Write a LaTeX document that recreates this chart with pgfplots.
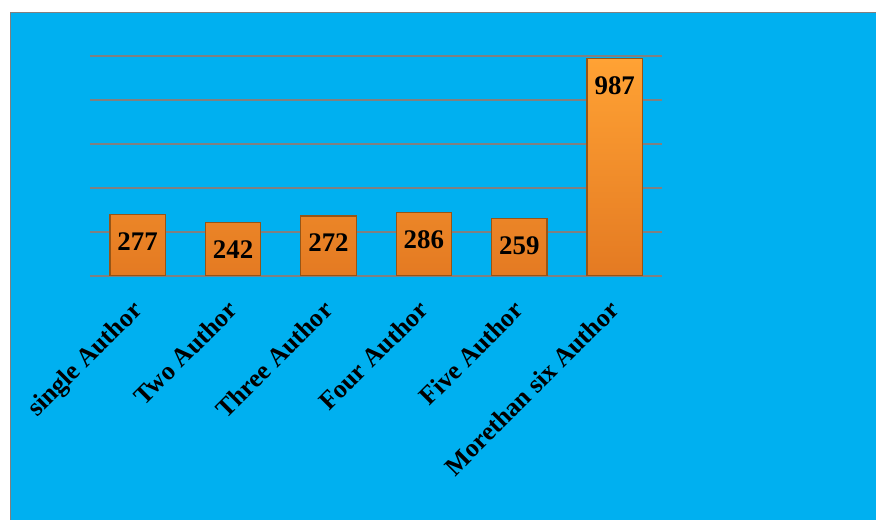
\documentclass[border=0pt]{standalone}
\usepackage{pgfplots}
\pgfplotsset{compat=1.18}
\usepackage{fontspec}
\setmainfont{Liberation Serif}
\definecolor{bg}{RGB}{0,176,240}
\definecolor{bartop}{RGB}{255,162,52}
\definecolor{barbot}{RGB}{228,122,34}
\definecolor{baredge}{RGB}{150,85,22}
\definecolor{gridc}{RGB}{128,128,128}
\begin{document}
\begin{tikzpicture}
\fill[white] (0bp,0bp) rectangle (877bp,520bp);
\fill[bg] (10bp,0bp) rectangle (877bp,508bp);
\draw[gridc, line width=1.5bp] (10.75bp,0bp) -- (10.75bp,507.25bp) -- (877bp,507.25bp);
\begin{axis}[
  at={(90bp,244bp)}, anchor=south west,
  scale only axis, width=573bp, height=220bp,
  xmin=-0.5, xmax=5.5, ymin=0, ymax=1000,
  ytick={0,200,400,600,800,1000}, yticklabels={},
  ymajorgrids, grid style={line width=1.5bp, draw=gridc, opacity=1},
  axis line style={draw=none},
  major tick length=0pt,
  /pgf/number format/assume math mode=true,
  xtick={0,1,2,3,4,5},
  xticklabels={single Author, Two Author, Three Author, Four Author, Five Author, Morethan six Author},
  xticklabel style={xshift=-7bp, yshift=-23bp, rotate=45, anchor=north east, font=\bfseries\fontsize{26}{26}\selectfont, inner sep=0pt},
  clip=false,
]
\addplot[ybar, bar width=55.5bp, top color=bartop, bottom color=barbot, draw=baredge, line width=1.2bp,
  nodes near coords,
  every node near coord/.append style={anchor=center, yshift=-27bp, font=\bfseries\fontsize{27}{27}\selectfont, text=black}]
  coordinates {(0,277) (1,242) (2,272) (3,286) (4,259) (5,987)};
\end{axis}
\end{tikzpicture}
\end{document}
